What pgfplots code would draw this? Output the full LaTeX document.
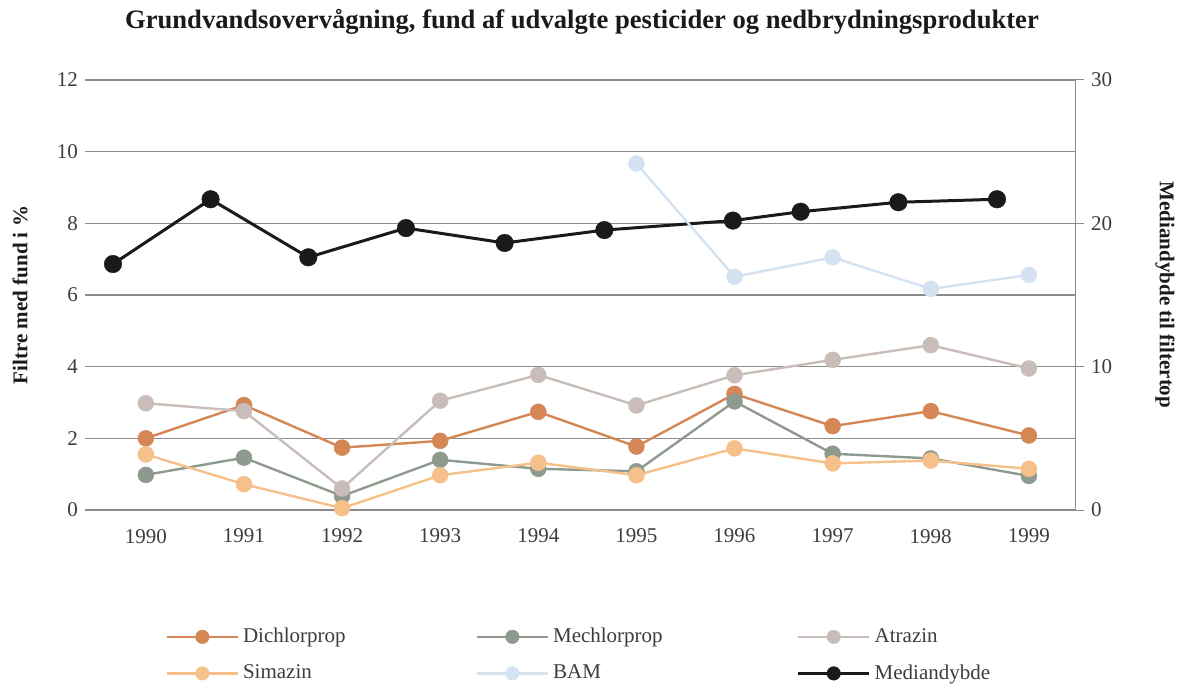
\documentclass[border=0pt]{standalone}
\usepackage{fontspec}
\setmainfont{Liberation Serif}
\usepackage{pgfplots}
\pgfplotsset{compat=1.18}
\definecolor{dich}{RGB}{212,134,84}
\definecolor{mech}{RGB}{142,154,142}
\definecolor{atra}{RGB}{200,189,184}
\definecolor{sima}{RGB}{245,192,138}
\definecolor{bam}{RGB}{212,226,242}
\definecolor{med}{RGB}{26,26,26}
\definecolor{gridc}{RGB}{140,140,140}
\definecolor{tickc}{RGB}{60,60,60}
\begin{document}
\begin{tikzpicture}
\path[use as bounding box] (-42.5pt,-87.5pt) rectangle (546pt,255pt);
\pgfplotsset{
  base/.style={
    at={(0,0)}, anchor=south west,
    width=495pt, height=215pt, scale only axis,
    xmin=1989.38, xmax=1999.47,
    clip=false,
    /pgf/number format/assume math mode=true,
    /pgf/number format/1000 sep={},
    ticklabel style={font=\fontsize{10.5}{12}\selectfont, text=tickc},
  },
  legend image code/.code={\draw[mark repeat=2,mark phase=2,mark size=3.4pt] plot coordinates {(0pt,0pt)(17.75pt,0pt)(35.5pt,0pt)};},
}
% right axis (drawn first): grid + Mediandybde
\begin{axis}[base,
  ymin=0, ymax=30,
  axis x line=none, axis y line*=right,
  y axis line style={draw=gridc, line width=0.5pt},
  ytick={0,10,20,30}, minor ytick={5,15,25},
  ymajorgrids, yminorgrids,
  major grid style={gridc, line width=0.6pt},
  minor grid style={gridc, line width=0.6pt},
  ytick align=outside, major tick length=4.5pt, minor tick length=0pt,
  tick style={gridc, line width=0.5pt},
]
\addplot[med, line width=1.5pt, mark=*, mark size=4.4pt, mark options={fill=med, draw=med, line width=0.2pt}] coordinates {
(1989.665,17.16) (1990.660,21.68) (1991.656,17.63) (1992.651,19.67) (1993.657,18.63)
(1994.673,19.53) (1995.983,20.19) (1996.674,20.81) (1997.670,21.47) (1998.675,21.68)};
\end{axis}
% left axis: pesticides
\begin{axis}[base,
  ymin=0, ymax=12,
  axis line style={draw=none},
  major tick length=0pt,
  xtick={1990,...,1999}, ytick={0,2,...,12},
  xticklabel style={yshift=-6pt},
  legend columns=3,
  legend cell align=left,
  legend style={draw=none, fill=none, at={(0.075,-0.255)}, anchor=north west,
    font=\fontsize{10.5}{12}\selectfont, text=tickc,
    row sep=5.5pt,
    /tikz/column 2/.style={column sep=63pt},
    /tikz/column 4/.style={column sep=65pt}},
]
\addplot[dich, line width=1.2pt, mark=*, mark size=4pt, mark options={fill=dich, draw=dich, line width=0.2pt}] coordinates {
(1990,2.00) (1991,2.93) (1992,1.74) (1993,1.93) (1994,2.74) (1995,1.77) (1996,3.24) (1997,2.34) (1998,2.76) (1999,2.08)};
\addlegendentry{Dichlorprop}
\addplot[mech, line width=1.2pt, mark=*, mark size=4pt, mark options={fill=mech, draw=mech, line width=0.2pt}] coordinates {
(1990,0.98) (1991,1.46) (1992,0.39) (1993,1.40) (1994,1.15) (1995,1.08) (1996,3.03) (1997,1.57) (1998,1.44) (1999,0.95)};
\addlegendentry{Mechlorprop}
\addplot[atra, line width=1.2pt, mark=*, mark size=4pt, mark options={fill=atra, draw=atra, line width=0.2pt}] coordinates {
(1990,2.98) (1991,2.76) (1992,0.60) (1993,3.05) (1994,3.77) (1995,2.92) (1996,3.76) (1997,4.19) (1998,4.60) (1999,3.95)};
\addlegendentry{Atrazin}
\addplot[sima, line width=1.2pt, mark=*, mark size=4pt, mark options={fill=sima, draw=sima, line width=0.2pt}] coordinates {
(1990,1.55) (1991,0.72) (1992,0.05) (1993,0.97) (1994,1.32) (1995,0.97) (1996,1.72) (1997,1.30) (1998,1.38) (1999,1.15)};
\addlegendentry{Simazin}
\addplot[bam, line width=1.2pt, mark=*, mark size=4pt, mark options={fill=bam, draw=bam, line width=0.2pt}] coordinates {
(1995,9.67) (1996,6.51) (1997,7.05) (1998,6.17) (1999,6.56)};
\addlegendentry{BAM}
\addlegendimage{med, line width=1.5pt, mark=*, mark options={fill=med, draw=med, line width=0.2pt}}
\addlegendentry{Mediandybde}
\end{axis}
\node[font=\bfseries\fontsize{13.3}{16}\selectfont, text=med] at (248.5pt,244pt) {Grundvandsovervågning, fund af udvalgte pesticider og nedbrydningsprodukter};
\node[font=\bfseries\fontsize{10.5}{12}\selectfont, text=med, rotate=90] at (-32.5pt,107.5pt) {Filtre med fund i \%};
\node[font=\bfseries\fontsize{10.5}{12}\selectfont, text=med, rotate=-90] at (540pt,107.5pt) {Mediandybde til filtertop};
\end{tikzpicture}
\end{document}
